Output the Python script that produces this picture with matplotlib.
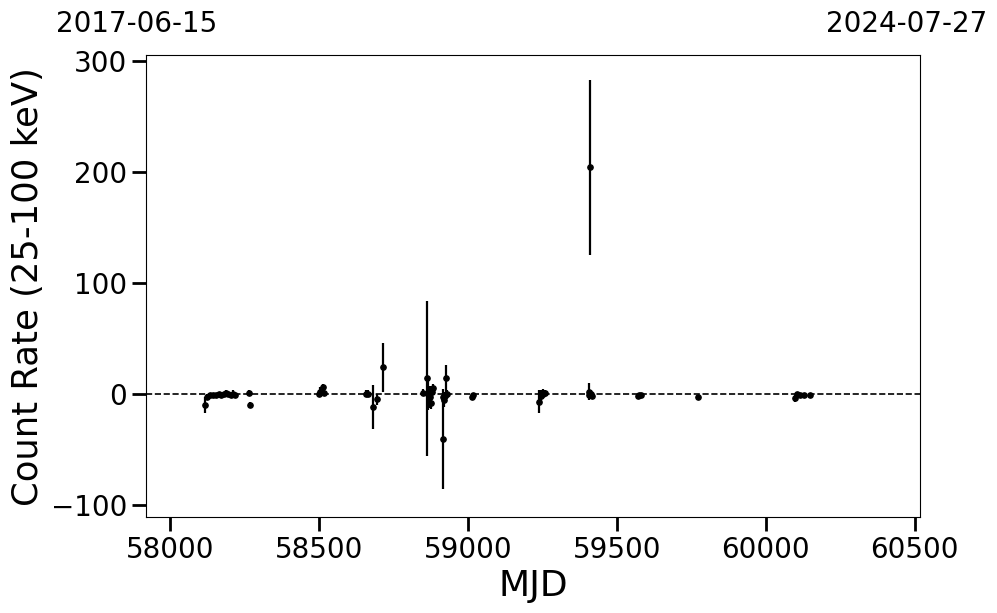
import matplotlib
matplotlib.use("Agg")
import matplotlib.pyplot as plt
import numpy as np

mjd = [58118, 58125, 58135, 58145, 58155, 58165, 58172, 58180, 58188, 58196, 58205, 58212, 58218,
       58265, 58268,
       58500, 58505, 58512, 58516,
       58659, 58665, 58682, 58696, 58716,
       58850, 58862, 58867, 58872, 58876, 58880, 58884,
       58915, 58918, 58921, 58924, 58927, 58930,
       59015, 59018,
       59240, 59246, 59253, 59260,
       59405, 59408, 59411, 59413, 59416,
       59572, 59576, 59580,
       59774,
       60097, 60104, 60115, 60130, 60148]
rate = [-10, -3, -1, -1, -1, 0, -1, 0, 1, 0, -1, 0, -1,
        1, -10,
        0, 2, 6, 1,
        0, 0, -12, -5, 24,
        1, 14, 0, -3, -8, 2, 5,
        -41, -3, -6, -2, 14, 0,
        -3, -1,
        -7, -2, 0, 1,
        2, -1, 204, 0, -2,
        -2, -1, -1,
        -3,
        -4, 0, -1, -1, -1]
err = [7, 3, 2, 2, 2, 2, 2, 2, 2, 2, 2, 3, 2,
       2, 3,
       3, 4, 3, 2,
       3, 3, 20, 5, 22,
       3, 70, 15, 10, 6, 5, 4,
       45, 4, 6, 4, 12, 3,
       3, 2,
       10, 5, 4, 2,
       8, 3, 79, 3, 2,
       2, 2, 2,
       2,
       3, 2, 2, 2, 2]

fig = plt.figure(figsize=(9.97, 6.13), dpi=100)
ax = fig.add_axes([0.1464, 0.1566, 0.7764, 0.7534])
ax.errorbar(mjd, rate, yerr=err, fmt='o', color='black', ms=3.8, elinewidth=1.6, capsize=0)
ax.axhline(0, color='black', ls='--', lw=1.2)
ax.set_xlim(57919, 60518)
ax.set_ylim(-111, 305)
ax.set_xticks([58000, 58500, 59000, 59500, 60000, 60500])
ax.set_yticks([-100, 0, 100, 200, 300])
ax.tick_params(axis='both', which='major', labelsize=20, length=10, width=2, direction='out')
ax.set_xlabel('MJD', fontsize=26)
ax.set_ylabel('Count Rate (25-100 keV)', fontsize=25.5)
fig.text(0.056, 0.948, '2017-06-15', fontsize=20, va='baseline')
fig.text(0.990, 0.948, '2024-07-27', fontsize=20, ha='right', va='baseline')
fig.savefig('out.png', dpi=100)
